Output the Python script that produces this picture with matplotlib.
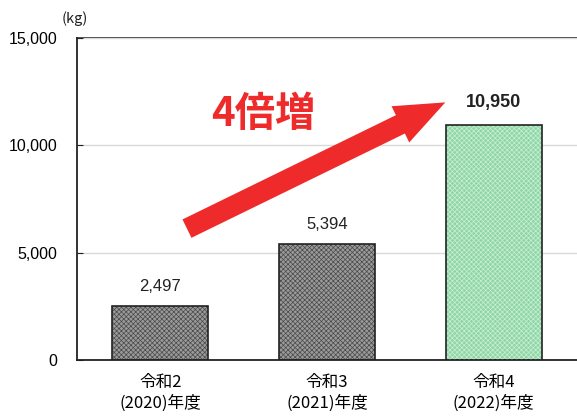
import matplotlib
matplotlib.use("Agg")
import matplotlib.pyplot as plt

years = ["令和2\n(2020)年度", "令和3\n(2021)年度", "令和4\n(2022)年度"]
values = [2497, 5394, 10950]
yticks = [0, 5000, 10000, 15000]

face = ["#9a9a9a", "#9a9a9a", "#8fd6a6"]
hatchc = ["#4a4a4a", "#4a4a4a", "#c9efd6"]

JP = ["Noto Sans CJK JP", "DejaVu Sans"]
NUM = ["Liberation Sans", "DejaVu Sans"]

plt.rcParams["hatch.linewidth"] = 0.5

fig = plt.figure(figsize=(5.77, 4.16), dpi=100)
ax = fig.add_axes([0.1334, 0.1346, 0.8666, 0.7741])
x = range(len(values))

# base fill + outline, then hatch overlay
ax.bar(x, values, width=0.575, color=face, edgecolor="none", zorder=2)
for xi, v, hc in zip(x, values, hatchc):
    ax.bar(xi, v, width=0.575, color="none", edgecolor=hc, hatch="xxxxxxx", lw=0, zorder=3)
ax.bar(x, values, width=0.575, color="none", edgecolor="#222", lw=1.2, zorder=4)

ax.set_xlim(-0.5, 2.5)
ax.set_ylim(0, 15000)
ax.set_yticks(yticks)
ax.set_yticklabels([f"{t:,}" for t in yticks], family=NUM, fontsize=11.5)
ax.set_xticks(list(x))
ax.set_xticklabels(years, family=JP, fontsize=12, linespacing=1.25)
ax.tick_params(axis="y", direction="in", length=4, pad=14, color="#222")
ax.tick_params(axis="x", length=0, pad=10)
ax.grid(axis="y", color="#d9d9d9", lw=1, zorder=0)
ax.axhline(15000, color="#555", lw=1.4, zorder=1, clip_on=False)
for s in ["top", "right"]:
    ax.spines[s].set_visible(False)
for s in ["left", "bottom"]:
    ax.spines[s].set_color("#222")
    ax.spines[s].set_linewidth(1.3)

for xi, v in zip(x, values):
    bold = v == max(values)
    ax.annotate(f"{v:,}", (xi, v), xytext=(0, 10 if bold else 9), textcoords="offset points",
                ha="center", va="bottom", family=NUM, fontsize=13 if bold else 12,
                fontweight="bold" if bold else "normal", color="#222")

ax.text(-0.51, 15900, "(kg)", family=JP, fontsize=10.5, ha="center", va="center", color="#222")

# growth arrow + label
ax.annotate("", xy=(1.71, 12000), xytext=(0.16, 6120),
            arrowprops=dict(arrowstyle="simple,head_length=3.6,head_width=2.9,tail_width=1.47",
                            mutation_scale=10, color="#ee2a2a", lw=0, shrinkA=0, shrinkB=0),
            zorder=5)
ax.text(0.62, 11450, "4倍増", family=JP, fontsize=29, fontweight="bold",
        color="#ee2a2a", ha="center", va="center", zorder=5)

fig.savefig("out.png", dpi=100)
